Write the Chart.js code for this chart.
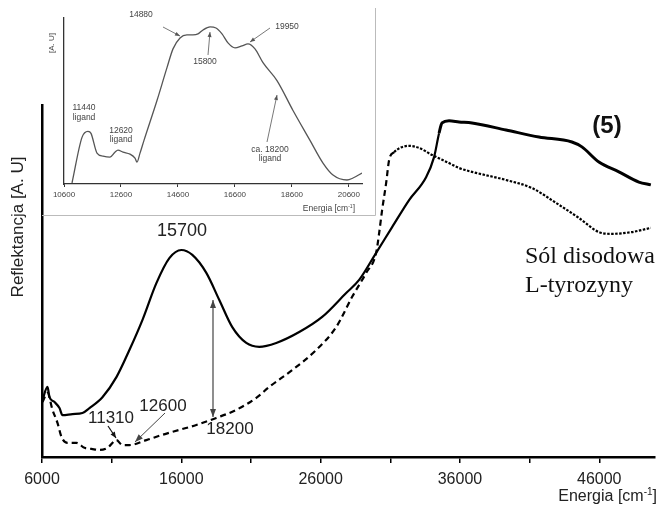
<!DOCTYPE html>
<html><head><meta charset="utf-8">
<script src="https://cdn.jsdelivr.net/npm/chart.js@4"></script>
<style>
html,body{margin:0;padding:0;background:#fff;}
#wrap{position:relative;width:660px;height:510px;}
#main,#inset{position:absolute;left:0;top:0;}
</style></head><body>
<div id="wrap"><canvas id="main" width="660" height="510"></canvas><canvas id="inset" width="380" height="220"></canvas></div>
<script>
// ---- main chart data ----
const xTicks = [6000,11000,16000,21000,26000,31000,36000,41000,46000];
const xLabels = ['6000','','16000','','26000','','36000','','46000'];
const solidE = [6036,6394,6538,6896,7255,7470,8187,8904,9406,10338,11342,12274,13206,14210,15142,16002,16791,17795,18727,19659,20663,21595,22814,24463,26112,27833,28765,29984,31131,32350,33569,34142,34501,34716,35218,35935,36867,39305,41671,44037,44754,45973,47407,48841,49701];
const solidR = [16.2,19.9,17.0,15.6,13.9,11.9,12.2,12.5,13.9,17.0,22.7,30.4,38.9,49.4,56.5,58.8,57.4,52.3,44.6,36.9,32.4,31.3,32.4,35.5,39.8,46.6,50.3,58.0,65.3,73.0,79.5,85.2,92.0,94.9,95.5,95.2,94.9,92.9,90.9,89.5,88.1,83.8,81.0,78.1,77.3];
const dashedE = [6036,6394,6753,7111,7398,7828,8474,9047,9549,10123,10696,11342,11772,12274,13493,14640,15859,17078,18512,19946,21380,22312,23961,25682,27116,28263,29267,29984,30199,30414,30701,30916,31274,32350,33067,33999,35218,35935,36867,39305,41169,42890,44539,45973,46905,48339,49701];
const dashedR = [15.6,18.2,13.4,9.7,5.7,4.0,4.0,2.6,2.3,2.0,2.6,4.8,3.4,3.4,4.8,6.3,7.7,9.1,11.1,13.4,16.8,19.9,24.7,30.4,36.9,45.5,52.3,58.0,63.6,70.2,77.8,84.4,86.6,88.4,87.8,85.8,83.5,82.1,81.0,78.7,76.4,72.2,67.9,63.9,63.4,63.9,65.1];
// ---- inset data ----
const insetTicks = [10600,12600,14600,16600,18600,20600];
const insetE = [10881,11232,11442,11548,11758,11969,12215,12390,12495,12671,12917,13092,13162,13268,13408,13864,14215,14426,14672,14917,15128,15303,15479,15725,15935,16146,16356,16602,16848,17058,17304,17585,18076,18638,19235,19691,20042,20533,20744,21060];
const insetR = [0.6,28.1,31.7,30.5,18.6,16.8,16.2,19.2,20.4,19.2,18.0,15.6,13.2,18.6,26.3,50.3,70.1,81.4,88.0,89.8,89.8,90.4,92.8,94.6,94.0,90.4,85.0,82.0,83.2,84.4,81.4,73.1,62.3,44.3,26.3,12.6,5.4,2.4,3.6,6.6];

const pts = (xs, ys) => xs.map((v,i)=>({x:v, y:ys[i]}));
const SANS = 'Liberation Sans, Arial, sans-serif';
const SERIF = 'Liberation Serif, Times New Roman, serif';

function arrow(ctx,x1,y1,x2,y2,color,w,hl,hw,both){
  ctx.save();
  ctx.strokeStyle=color; ctx.fillStyle=color; ctx.lineWidth=w;
  ctx.beginPath(); ctx.moveTo(x1,y1); ctx.lineTo(x2,y2); ctx.stroke();
  const head=(xa,ya,xb,yb)=>{
    const a=Math.atan2(yb-ya,xb-xa);
    ctx.beginPath();
    ctx.moveTo(xb,yb);
    ctx.lineTo(xb-hl*Math.cos(a)+hw*Math.sin(a), yb-hl*Math.sin(a)-hw*Math.cos(a));
    ctx.lineTo(xb-hl*Math.cos(a)-hw*Math.sin(a), yb-hl*Math.sin(a)+hw*Math.cos(a));
    ctx.closePath(); ctx.fill();
  };
  head(x1,y1,x2,y2);
  if(both) head(x2,y2,x1,y1);
  ctx.restore();
}
function txt(ctx,s,x,y,font,color,align){
  ctx.font=font; ctx.fillStyle=color||'#222'; ctx.textAlign=align||'center'; ctx.textBaseline='middle';
  ctx.fillText(s,x,y);
}
function supLabel(ctx,x,y,size,color){
  const f1=size+'px '+SANS, f2=Math.round(size*0.6)+'px '+SANS;
  ctx.font=f1; const a='Energia [cm', c=']';
  const wa=ctx.measureText(a).width, wc=ctx.measureText(c).width;
  ctx.font=f2; const wb=ctx.measureText('-1').width;
  const x0=x-wa-wb-wc;
  ctx.fillStyle=color; ctx.textAlign='left'; ctx.textBaseline='middle';
  ctx.font=f1; ctx.fillText(a,x0,y);
  ctx.font=f2; ctx.fillText('-1',x0+wa,y-size*0.3);
  ctx.font=f1; ctx.fillText(c,x0+wa+wb,y);
}

const mainAnnot = {
  id:'mainAnnot',
  afterDraw(chart){
    const ctx=chart.ctx;
    ctx.save();
    ctx.save(); ctx.translate(18,227); ctx.rotate(-Math.PI/2);
    txt(ctx,'Reflektancja [A. U]',0,0,'17px '+SANS,'#222');
    ctx.restore();
    supLabel(ctx,657,497,16,'#222');
    txt(ctx,'15700',182,231,'18px '+SANS,'#222');
    txt(ctx,'(5)',607,126,'bold 24px '+SANS,'#111');
    txt(ctx,'Sól disodowa',525,257,'24px '+SERIF,'#111','left');
    txt(ctx,'L-tyrozyny',525,286,'24px '+SERIF,'#111','left');
    txt(ctx,'18200',230,429,'17px '+SANS,'#222');
    txt(ctx,'12600',163,406,'17px '+SANS,'#222');
    txt(ctx,'11310',111,418.5,'17px '+SANS,'#222');
    arrow(ctx,213,300,213,417,'#444',1.2,8,3,true);
    arrow(ctx,165,413,135,442,'#444',1,8,3,false);
    arrow(ctx,108,426,116,438,'#111',1.2,6,2.5,false);
    ctx.restore();
  }
};

new Chart(document.getElementById('main'),{
  type:'line',
  data:{datasets:[
    {data:pts(solidE,solidR), borderColor:'#000', borderWidth:2.2, pointRadius:0, cubicInterpolationMode:'monotone',
     segment:{borderWidth:c=>c.p0.parsed.x>=34500?3:2.2}},
    {data:pts(dashedE,dashedR), borderColor:'#000', borderWidth:2.2, pointRadius:0, cubicInterpolationMode:'monotone',
     segment:{borderDash:c=>c.p0.parsed.x>=31200?[2.5,1.5]:[6,4]}}
  ]},
  options:{
    responsive:false, animation:false, devicePixelRatio:1,
    layout:{padding:{top:105,right:5,left:0,bottom:0}},
    plugins:{legend:{display:false},tooltip:{enabled:false}},
    scales:{
      x:{type:'linear',min:6000,max:50000,
        afterBuildTicks:s=>{s.ticks=xTicks.map(v=>({value:v}));},
        ticks:{callback:(v,i)=>xLabels[i],font:{family:SANS,size:16},color:'#222',autoSkip:false,maxRotation:0,padding:7},
        grid:{display:true,drawOnChartArea:false,drawTicks:true,tickLength:6,color:'#000',lineWidth:1.5},
        border:{display:true,color:'#000',width:2.5},
        afterFit:s=>{s.height=53;}},
      y:{min:0,max:100,ticks:{display:false},grid:{display:false},
        border:{display:true,color:'#000',width:2.5},
        afterFit:s=>{s.width=42;}}
    }
  },
  plugins:[mainAnnot]
});

const insetAnnot = {
  id:'insetAnnot',
  afterDraw(chart){
    const ctx=chart.ctx;
    ctx.save();
    ctx.strokeStyle='#bbb'; ctx.lineWidth=1;
    ctx.beginPath(); ctx.moveTo(375.5,8); ctx.lineTo(375.5,215.5); ctx.lineTo(42,215.5); ctx.stroke();
    const f='8.5px '+SANS, col='#444';
    ctx.save(); ctx.translate(52,43); ctx.rotate(-Math.PI/2);
    txt(ctx,'[A. U]',0,0,'8px '+SANS,col);
    ctx.restore();
    supLabel(ctx,355,209,8.5,col);
    txt(ctx,'11440',84,108,f,col); txt(ctx,'ligand',84,118,f,col);
    txt(ctx,'12620',121,131,f,col); txt(ctx,'ligand',121,139.5,f,col);
    txt(ctx,'14880',141,15,f,col); arrow(ctx,163,27,180,36,'#555',0.8,5,2,false);
    txt(ctx,'15800',205,62,f,col); arrow(ctx,208,55,210,32,'#555',0.8,5,2,false);
    txt(ctx,'19950',287,27,f,col); arrow(ctx,270,28,250,42,'#555',0.8,5,2,false);
    txt(ctx,'ca. 18200',270,150,f,col); txt(ctx,'ligand',270,158.5,f,col);
    arrow(ctx,267,142,277,95,'#555',0.8,5,2,false);
    ctx.restore();
  }
};

new Chart(document.getElementById('inset'),{
  type:'line',
  data:{datasets:[{data:pts(insetE,insetR),borderColor:'#555',borderWidth:1.3,pointRadius:0,cubicInterpolationMode:'monotone'}]},
  options:{
    responsive:false, animation:false, devicePixelRatio:1,
    layout:{padding:{top:18,right:18,left:0,bottom:0}},
    plugins:{legend:{display:false},tooltip:{enabled:false}},
    scales:{
      x:{type:'linear',min:10600,max:21060,
        afterBuildTicks:s=>{s.ticks=insetTicks.map(v=>({value:v}));},
        ticks:{font:{family:SANS,size:8},color:'#444',autoSkip:false,maxRotation:0,padding:3,callback:v=>String(v)},
        grid:{display:true,drawOnChartArea:false,drawTicks:true,tickLength:3,color:'#333',lineWidth:1},
        border:{display:true,color:'#333',width:1.3},
        afterFit:s=>{s.height=36;}},
      y:{min:0,max:100,ticks:{display:false},grid:{display:false},
        border:{display:true,color:'#333',width:1.3},
        afterFit:s=>{s.width=64;}}
    }
  },
  plugins:[insetAnnot]
});
</script>
</body></html>
